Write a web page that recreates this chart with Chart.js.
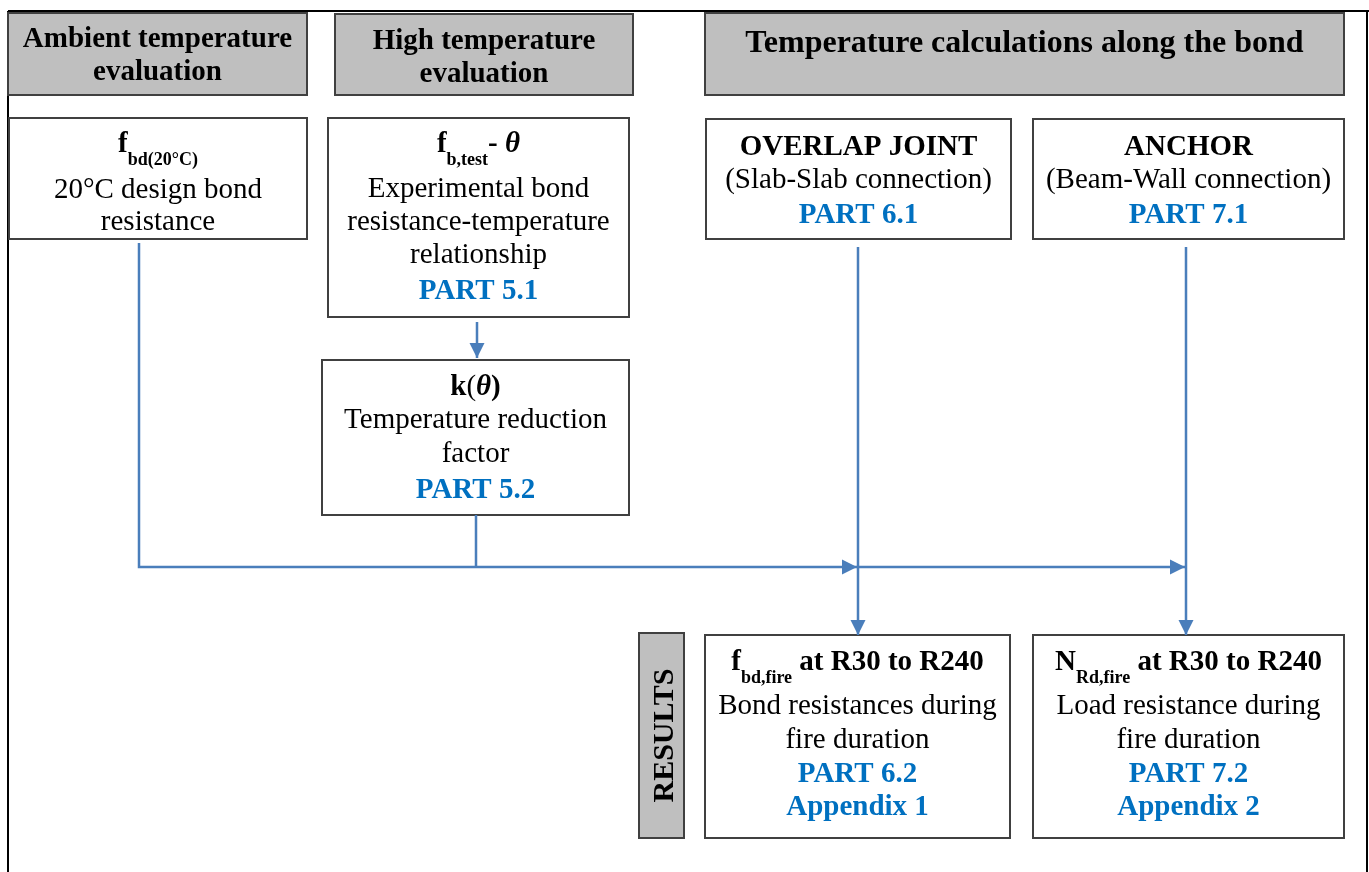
<!DOCTYPE html>
<html><head><meta charset="utf-8">
<script src="https://cdn.jsdelivr.net/npm/chart.js@4.4.1/dist/chart.umd.min.js"></script>
<style>html,body{margin:0;padding:0;background:#fff;overflow:hidden}canvas{display:block}</style>
</head><body>
<canvas id="c" width="1369" height="872"></canvas>
<script>
// ---------- content ----------
// header captions (grey boxes)
const headerLines = [
  ["Ambient temperature", "evaluation"],
  ["High temperature", "evaluation"],
  ["Temperature calculations along the bond"]
];
// process boxes: each line is a list of [style, text] runs
// styles: B bold, R regular, S bold subscript, I bold italic, P blue bold
const boxLines = [
  [[["B","f"],["S","bd(20°C)"]], [["R","20°C design bond"]], [["R","resistance"]]],
  [[["B","f"],["S","b,test"],["B","- "],["I","θ"]], [["R","Experimental bond"]], [["R","resistance-temperature"]], [["R","relationship"]], [["P","PART 5.1"]]],
  [[["B","k"],["R","("],["I","θ"],["B",")"]], [["R","Temperature reduction"]], [["R","factor"]], [["P","PART 5.2"]]],
  [[["B","OVERLAP JOINT"]], [["R","(Slab-Slab connection)"]], [["P","PART 6.1"]]],
  [[["B","ANCHOR"]], [["R","(Beam-Wall connection)"]], [["P","PART 7.1"]]],
  [[["B","f"],["S","bd,fire"],["B"," at R30 to R240"]], [["R","Bond resistances during"]], [["R","fire duration"]], [["P","PART 6.2"]], [["P","Appendix 1"]]],
  [[["B","N"],["S","Rd,fire"],["B"," at R30 to R240"]], [["R","Load resistance during"]], [["R","fire duration"]], [["P","PART 7.2"]], [["P","Appendix 2"]]]
];
const sideLabel = "RESULTS";

// ---------- layout (diagram coordinates) ----------
const headerRects = [[8,13,307,95],[335,14,633,95],[705,13,1344,95]];
const headerBaselines = [[47,80],[49,82],[52]];
const boxRects = [[9,118,307,239],[328,118,629,317],[322,360,629,515],[706,119,1011,239],[1033,119,1344,239],[705,635,1010,838],[1033,635,1344,838]];
const boxBaselines = [[152,198,230],[152,197,230,263,299],[395,428,462,498],[155,188,223],[155,188,223],[670,714,748,782,815],[670,714,748,782,815]];
const sideRect = [639,633,684,838];
const frameLines = [[[8,11],[1369,11]],[[8,11],[8,872]],[[1367,11],[1367,872]]];
// connectors (polyline points) and whether they end in an arrowhead
const connectorPaths = [
  [[139,243],[139,567],[857,567]],
  [[857,567],[1185,567]],
  [[477,322],[477,358]],
  [[476,515],[476,567]],
  [[858,247],[858,635]],
  [[1186,247],[1186,635]]
];
const connectorArrow = [true,true,true,false,true,true];

// ---------- styles ----------
const SERIF = "'Liberation Serif','Times New Roman',serif";
const BLUE_TEXT = "#0070C0";
const LINE_BLUE = "#4A7EBB";
const GREY = "#BFBFBF";
const EDGE = "#404040";
const runStyle = {
  B:{size:29,weight:"bold",style:"normal",color:"#000",dy:0},
  R:{size:29,weight:"normal",style:"normal",color:"#000",dy:0},
  S:{size:18,weight:"bold",style:"normal",color:"#000",dy:13},
  I:{size:29,weight:"bold",style:"italic",color:"#000",dy:0},
  P:{size:29,weight:"bold",style:"normal",color:BLUE_TEXT,dy:0}
};

function fontOf(s){ return s.style+" "+s.weight+" "+s.size+"px "+SERIF; }

function drawRuns(ctx, cx, by, runs){
  let w = 0;
  runs.forEach(([k,t]) => { ctx.font = fontOf(runStyle[k]); w += ctx.measureText(t).width; });
  let x = cx - w/2;
  ctx.textAlign = "left"; ctx.textBaseline = "alphabetic";
  runs.forEach(([k,t]) => {
    const s = runStyle[k];
    ctx.font = fontOf(s); ctx.fillStyle = s.color;
    ctx.fillText(t, x, by + s.dy);
    x += ctx.measureText(t).width;
  });
}

const diagramPlugin = {
  id: "diagram",
  beforeDatasetsDraw(chart){
    const ctx = chart.ctx, X = v => chart.scales.x.getPixelForValue(v), Y = v => chart.scales.y.getPixelForValue(v);
    ctx.save();
    // outer frame
    ctx.strokeStyle = "#000"; ctx.lineWidth = 2;
    frameLines.forEach(([a,b]) => { ctx.beginPath(); ctx.moveTo(X(a[0]),Y(a[1])); ctx.lineTo(X(b[0]),Y(b[1])); ctx.stroke(); });
    const rect = (r, fill) => {
      const x0=X(r[0]), y0=Y(r[1]), x1=X(r[2]), y1=Y(r[3]);
      ctx.fillStyle = fill; ctx.fillRect(x0,y0,x1-x0,y1-y0);
      ctx.strokeStyle = EDGE; ctx.lineWidth = 2; ctx.strokeRect(x0,y0,x1-x0,y1-y0);
    };
    // headers
    headerRects.forEach((r,i) => {
      rect(r, GREY);
      const cx = (X(r[0])+X(r[2]))/2;
      headerLines[i].forEach((t,j) => {
        ctx.font = (i===2 ? "bold 32px " : "bold 29px ") + SERIF;
        ctx.fillStyle = "#000"; ctx.textAlign = "center"; ctx.textBaseline = "alphabetic";
        ctx.fillText(t, cx, Y(headerBaselines[i][j]));
      });
    });
    // boxes
    boxRects.forEach((r,i) => {
      rect(r, "#fff");
      const cx = (X(r[0])+X(r[2]))/2;
      boxLines[i].forEach((runs,j) => drawRuns(ctx, cx, Y(boxBaselines[i][j]), runs));
    });
    // side label
    rect(sideRect, GREY);
    ctx.save();
    ctx.translate((X(sideRect[0])+X(sideRect[2]))/2, (Y(sideRect[1])+Y(sideRect[3]))/2);
    ctx.rotate(-Math.PI/2);
    ctx.font = "bold 30px " + SERIF; ctx.fillStyle = "#000"; ctx.textAlign = "center"; ctx.textBaseline = "alphabetic";
    ctx.fillText(sideLabel, 0, 11);
    ctx.restore();
    ctx.restore();
  },
  afterDatasetsDraw(chart){
    const ctx = chart.ctx, X = v => chart.scales.x.getPixelForValue(v), Y = v => chart.scales.y.getPixelForValue(v);
    ctx.save();
    ctx.fillStyle = LINE_BLUE;
    connectorPaths.forEach((p,i) => {
      if (!connectorArrow[i]) return;
      const a = p[p.length-2], b = p[p.length-1];
      const tx = X(b[0]), ty = Y(b[1]);
      const ang = Math.atan2(ty - Y(a[1]), tx - X(a[0]));
      const L = 15, H = 7.5;
      ctx.beginPath();
      ctx.moveTo(tx, ty);
      ctx.lineTo(tx - L*Math.cos(ang) - H*Math.sin(ang), ty - L*Math.sin(ang) + H*Math.cos(ang));
      ctx.lineTo(tx - L*Math.cos(ang) + H*Math.sin(ang), ty - L*Math.sin(ang) - H*Math.cos(ang));
      ctx.closePath(); ctx.fill();
    });
    ctx.restore();
  }
};

const datasets = connectorPaths.map((p,i) => ({
  label: "connector " + (i+1),
  data: p.map(([x,y]) => ({x, y})),
  showLine: true,
  borderColor: LINE_BLUE,
  borderWidth: 2.5,
  pointRadius: 0,
  pointHoverRadius: 0,
  tension: 0,
  fill: false
}));

new Chart(document.getElementById("c"), {
  type: "scatter",
  data: { datasets },
  options: {
    responsive: false,
    animation: false,
    devicePixelRatio: 1,
    layout: { padding: 0 },
    events: [],
    plugins: { legend: { display: false }, tooltip: { enabled: false }, title: { display: false } },
    scales: {
      x: { type: "linear", min: 0, max: 1369, display: false },
      y: { type: "linear", min: 0, max: 872, reverse: true, display: false }
    }
  },
  plugins: [diagramPlugin]
});
</script>
</body></html>
